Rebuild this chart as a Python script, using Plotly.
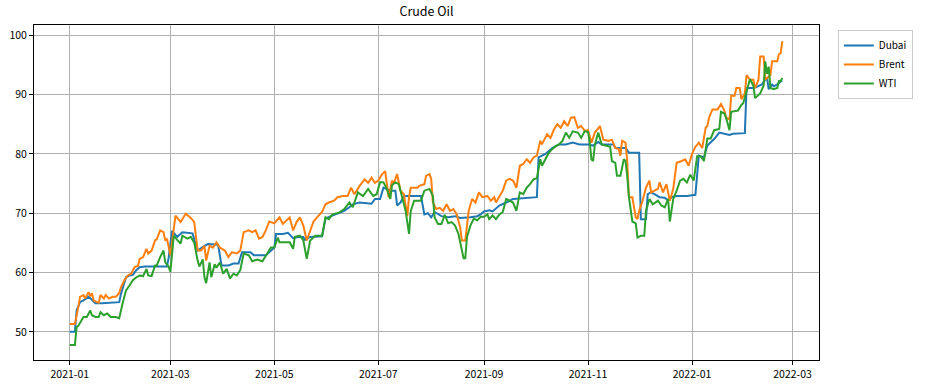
import plotly.graph_objects as go

# ---------------- data ----------------
dubai_dates = ["2021-01-01","2021-01-04","2021-01-05","2021-01-07","2021-01-09","2021-01-12","2021-01-14","2021-01-16","2021-01-20","2021-01-30","2021-01-31",
 "2021-02-03","2021-02-05","2021-02-07","2021-02-09","2021-02-11","2021-02-14","2021-02-27","2021-02-28","2021-03-02","2021-03-05","2021-03-08","2021-03-14",
 "2021-03-16","2021-03-17","2021-03-21","2021-03-23","2021-03-29","2021-03-31","2021-04-04","2021-04-07","2021-04-10","2021-04-12","2021-04-17","2021-04-19",
 "2021-04-26","2021-04-28","2021-05-01","2021-05-02","2021-05-06","2021-05-09","2021-05-12","2021-05-15","2021-05-18","2021-05-19","2021-05-22","2021-05-29",
 "2021-05-31","2021-06-04","2021-06-08","2021-06-11","2021-06-14","2021-06-16","2021-06-20","2021-06-27","2021-06-29","2021-07-02","2021-07-04","2021-07-06",
 "2021-07-08","2021-07-11","2021-07-12","2021-07-14","2021-07-16","2021-07-26","2021-07-28","2021-07-30","2021-08-01","2021-08-03","2021-08-07","2021-08-11",
 "2021-08-15","2021-08-18","2021-08-24","2021-08-28","2021-08-30","2021-09-01","2021-09-04","2021-09-06","2021-09-08","2021-09-10","2021-09-14","2021-09-18",
 "2021-10-02","2021-10-03","2021-10-05","2021-10-07","2021-10-11","2021-10-15","2021-10-19","2021-10-23","2021-10-27","2021-11-01","2021-11-04","2021-11-07",
 "2021-11-09","2021-11-16","2021-11-17","2021-11-23","2021-11-25","2021-12-01","2021-12-02","2021-12-05","2021-12-06","2021-12-08","2021-12-10","2021-12-13",
 "2021-12-16","2021-12-18","2021-12-20","2021-12-23","2021-12-29","2022-01-03","2022-01-05","2022-01-08","2022-01-10","2022-01-12","2022-01-14","2022-01-17",
 "2022-01-20","2022-01-23","2022-01-25","2022-02-01","2022-02-02","2022-02-06","2022-02-08","2022-02-11","2022-02-13","2022-02-14","2022-02-15","2022-02-17",
 "2022-02-18","2022-02-20","2022-02-22","2022-02-23"]
dubai_values = [50.0,50.0,53.6,55.0,55.3,55.9,55.4,54.8,54.8,55.0,56.4,
 59.2,59.5,59.6,60.4,60.9,61.0,61.0,62.5,67.0,66.0,66.8,66.6,
 64.5,63.7,64.5,64.8,64.7,61.2,61.2,61.5,61.5,63.4,63.4,62.9,
 62.9,63.4,64.2,66.5,66.5,66.7,65.8,66.0,66.0,65.5,66.0,66.1,
 69.1,69.6,70.1,70.4,71.0,71.5,71.8,71.6,72.4,72.4,74.3,74.1,
 73.8,73.8,71.3,71.8,72.9,72.9,69.8,70.0,69.3,70.2,69.5,69.3,
 69.5,69.2,69.3,69.5,69.8,70.3,70.5,70.3,70.8,71.3,71.8,72.4,
 72.7,79.4,79.7,80.0,81.0,81.6,81.6,81.9,81.6,81.6,81.4,82.0,
 81.6,81.6,81.0,81.0,80.2,80.2,69.0,69.0,73.2,73.5,73.2,72.7,
 72.6,72.1,72.7,72.9,72.9,73.1,79.7,79.4,81.4,81.9,82.5,83.6,
 83.4,83.2,83.4,83.5,91.1,91.1,91.3,91.7,92.5,92.8,90.9,91.7,
 91.4,91.7,92.2,92.3]

brent_dates = ["2021-01-01","2021-01-04","2021-01-06","2021-01-07","2021-01-09","2021-01-10","2021-01-12","2021-01-13","2021-01-14","2021-01-15","2021-01-17",
 "2021-01-18","2021-01-19","2021-01-21","2021-01-22","2021-01-24","2021-01-26","2021-01-28","2021-01-29","2021-01-30","2021-01-31","2021-02-02","2021-02-04",
 "2021-02-06","2021-02-08","2021-02-10","2021-02-11","2021-02-13","2021-02-15","2021-02-16","2021-02-18","2021-02-20","2021-02-21","2021-02-23","2021-02-25",
 "2021-02-26","2021-02-27","2021-03-01","2021-03-04","2021-03-07","2021-03-10","2021-03-13","2021-03-15","2021-03-17","2021-03-19","2021-03-21","2021-03-22",
 "2021-03-24","2021-03-26","2021-03-28","2021-03-30","2021-04-02","2021-04-04","2021-04-06","2021-04-09","2021-04-11","2021-04-13","2021-04-16","2021-04-18",
 "2021-04-20","2021-04-22","2021-04-24","2021-04-26","2021-04-28","2021-05-01","2021-05-04","2021-05-06","2021-05-10","2021-05-12","2021-05-14","2021-05-16",
 "2021-05-18","2021-05-20","2021-05-22","2021-05-24","2021-05-26","2021-05-29","2021-05-31","2021-06-02","2021-06-05","2021-06-07","2021-06-10","2021-06-13",
 "2021-06-15","2021-06-17","2021-06-20","2021-06-23","2021-06-25","2021-06-27","2021-06-29","2021-07-01","2021-07-03","2021-07-05","2021-07-07","2021-07-09",
 "2021-07-10","2021-07-12","2021-07-14","2021-07-16","2021-07-18","2021-07-19","2021-07-20","2021-07-24","2021-07-25","2021-07-28","2021-07-29","2021-07-31",
 "2021-08-01","2021-08-02","2021-08-04","2021-08-06","2021-08-08","2021-08-10","2021-08-12","2021-08-14","2021-08-16","2021-08-18","2021-08-19","2021-08-21",
 "2021-08-23","2021-08-25","2021-08-27","2021-08-29","2021-08-31","2021-09-03","2021-09-05","2021-09-07","2021-09-08","2021-09-10","2021-09-12","2021-09-14",
 "2021-09-16","2021-09-18","2021-09-20","2021-09-22","2021-09-24","2021-09-26","2021-09-28","2021-09-30","2021-10-02","2021-10-04","2021-10-05","2021-10-06",
 "2021-10-08","2021-10-10","2021-10-12","2021-10-14","2021-10-16","2021-10-18","2021-10-20","2021-10-22","2021-10-24","2021-10-26","2021-10-28","2021-10-30",
 "2021-11-01","2021-11-03","2021-11-05","2021-11-08","2021-11-10","2021-11-13","2021-11-15","2021-11-17","2021-11-19","2021-11-20","2021-11-21","2021-11-23",
 "2021-11-24","2021-11-25","2021-11-27","2021-11-29","2021-11-30","2021-12-01","2021-12-03","2021-12-05","2021-12-07","2021-12-08","2021-12-10","2021-12-12",
 "2021-12-13","2021-12-15","2021-12-17","2021-12-19","2021-12-21","2021-12-23","2021-12-26","2021-12-28","2021-12-30","2022-01-01","2022-01-03","2022-01-05",
 "2022-01-07","2022-01-09","2022-01-10","2022-01-11","2022-01-13","2022-01-16","2022-01-18","2022-01-20","2022-01-21","2022-01-23","2022-01-24","2022-01-26",
 "2022-01-27","2022-01-29","2022-01-30","2022-02-01","2022-02-02","2022-02-04","2022-02-06","2022-02-07","2022-02-09","2022-02-10","2022-02-12","2022-02-13",
 "2022-02-16","2022-02-17","2022-02-20","2022-02-21","2022-02-22","2022-02-23"]
brent_values = [51.3,51.3,54.2,55.9,56.2,55.6,56.7,56.0,56.5,55.3,55.0,
 54.9,56.2,55.6,56.2,55.6,55.9,55.9,56.2,56.6,57.5,58.7,59.5,
 59.8,60.9,61.1,62.3,62.6,64.0,63.2,63.7,65.4,65.6,67.1,66.8,
 65.4,65.7,62.9,69.6,68.5,69.9,69.2,68.5,63.7,63.7,64.5,62.0,
 64.5,64.2,65.1,64.2,63.7,62.6,63.4,63.2,63.7,66.8,67.1,66.8,
 67.1,65.7,66.0,67.1,68.6,68.3,69.3,68.2,69.3,67.1,68.5,69.3,
 67.9,65.4,67.1,68.6,69.3,70.2,71.5,71.8,72.1,72.7,72.9,72.9,
 74.3,73.2,74.6,75.7,75.1,76.0,75.1,75.5,76.5,77.1,72.7,75.5,
 75.0,76.6,73.8,73.2,69.5,72.7,74.3,74.3,74.6,74.9,76.3,76.6,
 75.8,71.8,70.7,70.9,70.4,71.5,70.4,70.7,69.8,67.6,65.4,65.4,
 70.4,72.4,71.8,73.5,72.7,72.9,72.1,72.7,71.8,72.9,73.8,75.5,
 75.8,75.5,74.3,78.0,78.3,79.1,78.5,79.4,79.7,82.2,81.6,82.2,
 83.3,82.7,84.1,85.0,84.4,85.5,84.7,86.1,86.2,84.4,84.7,83.9,
 84.0,81.9,83.6,84.7,82.4,82.2,82.4,81.0,80.8,79.7,82.2,81.9,
 78.8,72.7,72.7,69.3,69.0,70.4,72.1,74.3,75.5,73.5,73.8,74.1,
 75.2,73.5,74.9,72.1,74.1,78.5,78.8,79.1,78.0,80.0,81.2,81.9,
 81.0,84.4,84.7,86.1,87.5,87.5,88.4,87.3,86.1,85.8,89.8,89.8,
 91.1,91.1,89.2,90.2,93.3,92.5,92.5,91.1,92.5,96.4,96.4,92.5,
 93.3,95.6,95.6,96.8,97.0,99.0]

wti_dates = ["2021-01-01","2021-01-04","2021-01-05","2021-01-06","2021-01-09","2021-01-11","2021-01-13","2021-01-14","2021-01-16","2021-01-18","2021-01-19",
 "2021-01-21","2021-01-23","2021-01-25","2021-01-28","2021-01-30","2021-02-01","2021-02-03","2021-02-05","2021-02-07","2021-02-09","2021-02-11","2021-02-13",
 "2021-02-15","2021-02-16","2021-02-18","2021-02-20","2021-02-21","2021-02-23","2021-02-25","2021-02-26","2021-02-28","2021-03-01","2021-03-03","2021-03-05",
 "2021-03-07","2021-03-08","2021-03-11","2021-03-13","2021-03-15","2021-03-17","2021-03-18","2021-03-20","2021-03-21","2021-03-22","2021-03-24","2021-03-25",
 "2021-03-27","2021-03-28","2021-03-30","2021-04-01","2021-04-03","2021-04-05","2021-04-07","2021-04-09","2021-04-11","2021-04-13","2021-04-16","2021-04-18",
 "2021-04-21","2021-04-24","2021-04-27","2021-04-29","2021-05-01","2021-05-03","2021-05-04","2021-05-10","2021-05-12","2021-05-13","2021-05-16","2021-05-18",
 "2021-05-20","2021-05-22","2021-05-25","2021-05-29","2021-05-31","2021-06-02","2021-06-04","2021-06-08","2021-06-11","2021-06-14","2021-06-16","2021-06-19",
 "2021-06-22","2021-06-25","2021-06-28","2021-06-30","2021-07-02","2021-07-04","2021-07-06","2021-07-08","2021-07-09","2021-07-11","2021-07-13","2021-07-15",
 "2021-07-17","2021-07-19","2021-07-20","2021-07-22","2021-07-26","2021-07-28","2021-07-31","2021-08-02","2021-08-03","2021-08-05","2021-08-07","2021-08-09",
 "2021-08-11","2021-08-13","2021-08-15","2021-08-17","2021-08-19","2021-08-20","2021-08-21","2021-08-22","2021-08-24","2021-08-26","2021-08-28","2021-08-30",
 "2021-09-01","2021-09-03","2021-09-04","2021-09-06","2021-09-08","2021-09-10","2021-09-12","2021-09-14","2021-09-16","2021-09-18","2021-09-20","2021-09-22",
 "2021-09-24","2021-09-26","2021-09-28","2021-09-30","2021-10-02","2021-10-04","2021-10-05","2021-10-07","2021-10-09","2021-10-11","2021-10-13","2021-10-15",
 "2021-10-17","2021-10-19","2021-10-21","2021-10-23","2021-10-26","2021-10-28","2021-10-30","2021-11-01","2021-11-02","2021-11-03","2021-11-04","2021-11-05",
 "2021-11-07","2021-11-09","2021-11-11","2021-11-14","2021-11-15","2021-11-17","2021-11-18","2021-11-20","2021-11-22","2021-11-23","2021-11-24","2021-11-25",
 "2021-11-27","2021-11-29","2021-11-30","2021-12-02","2021-12-04","2021-12-05","2021-12-07","2021-12-09","2021-12-12","2021-12-14","2021-12-16","2021-12-18",
 "2021-12-19","2021-12-21","2021-12-23","2021-12-25","2021-12-27","2021-12-29","2021-12-31","2022-01-02","2022-01-04","2022-01-06","2022-01-08","2022-01-10",
 "2022-01-12","2022-01-14","2022-01-17","2022-01-18","2022-01-20","2022-01-21","2022-01-23","2022-01-24","2022-01-28","2022-01-30","2022-01-31","2022-02-02",
 "2022-02-04","2022-02-06","2022-02-07","2022-02-10","2022-02-12","2022-02-13","2022-02-14","2022-02-15","2022-02-16","2022-02-18","2022-02-20","2022-02-21",
 "2022-02-22","2022-02-23"]
wti_values = [47.8,47.8,50.8,51.0,52.5,52.5,53.6,52.8,52.5,52.5,53.3,
 52.8,53.1,52.5,52.5,52.3,54.8,57.0,57.8,58.7,59.2,59.5,59.4,
 60.6,59.5,59.4,61.2,61.2,62.6,63.7,61.7,61.0,60.1,66.2,65.5,
 64.9,66.2,65.7,66.0,65.0,62.0,61.0,62.2,59.2,58.2,61.7,59.2,
 61.4,60.8,61.7,59.8,60.6,59.0,59.8,59.5,60.4,63.2,62.9,61.9,
 62.2,61.9,63.4,64.2,64.2,65.9,65.1,65.1,64.0,66.0,66.2,65.4,
 62.3,65.4,66.2,66.2,69.3,69.0,69.8,70.1,70.7,71.8,71.0,73.5,
 72.9,74.1,72.9,73.2,75.2,75.2,74.1,72.4,74.7,75.2,74.9,72.7,
 70.4,66.5,70.4,72.1,72.1,73.8,74.1,72.9,69.3,68.2,68.2,69.7,
 68.3,68.5,67.9,66.5,63.7,62.4,62.4,66.0,67.9,69.1,68.8,69.4,
 69.4,69.8,69.0,69.6,69.0,69.8,70.2,72.4,72.1,71.8,70.4,73.5,
 73.2,74.3,74.9,75.7,75.9,79.1,78.0,79.1,80.2,80.8,81.3,81.6,
 82.2,83.6,82.7,83.8,83.6,82.7,83.8,83.7,82.0,79.1,78.8,81.5,
 83.6,81.6,81.4,81.2,78.8,78.5,76.3,76.3,79.1,78.8,76.3,72.7,
 68.6,68.3,65.9,66.2,66.2,70.4,72.4,71.5,72.1,71.3,71.0,72.4,
 68.6,72.4,73.8,75.5,75.8,75.2,76.5,75.5,79.6,79.6,78.8,82.6,
 82.6,84.0,84.2,87.1,86.8,86.1,84.0,87.1,87.3,88.3,88.5,90.7,
 92.6,91.5,89.4,90.2,91.5,95.6,93.5,94.7,91.1,90.9,91.1,92.3,
 92.3,92.8]

series_names = ["Dubai", "Brent", "WTI"]
series_colors = ["#1f77b4", "#ff7f0e", "#2ca02c"]
y_ticks = [50, 60, 70, 80, 90, 100]

# ---------------- figure ----------------
FONT = "Noto Sans CJK KR"
fig = go.Figure()
for name, xs, ys, col in zip(series_names,
                             [dubai_dates, brent_dates, wti_dates],
                             [dubai_values, brent_values, wti_values],
                             series_colors):
    fig.add_trace(go.Scatter(x=xs, y=ys, mode="lines", name=name,
                             line=dict(color=col, width=2)))

axis_common = dict(showline=True, linecolor="black", linewidth=1, mirror=True,
                   ticks="outside", ticklen=4, tickcolor="black",
                   showgrid=True, gridcolor="#b0b0b0", gridwidth=1,
                   zeroline=False, automargin=False,
                   tickfont=dict(family=FONT, size=10.5, color="black"))

fig.update_layout(
    width=940, height=386,
    margin=dict(l=34, r=121, t=25, b=26, autoexpand=False),
    paper_bgcolor="white", plot_bgcolor="white",
    title=dict(text="Crude Oil", x=(34 + 819) / 2 / 940, xanchor="center",
               y=1 - 12 / 386, yanchor="middle", automargin=False,
               font=dict(family=FONT, size=12.5, color="black")),
    font=dict(family=FONT, size=10, color="black"),
    legend=dict(x=1.024, y=0.985, xanchor="left", yanchor="top",
                bordercolor="#cccccc", borderwidth=1, bgcolor="white",
                font=dict(family=FONT, size=10, color="black"),
                tracegroupgap=0, itemwidth=30),
    showlegend=True,
)
fig.update_xaxes(**axis_common, type="date",
                 range=["2020-12-11", "2022-03-16 12:00"],
                 dtick="M2", tick0="2021-01-01", tickformat="%Y-%m")
fig.update_yaxes(**axis_common, range=[45.25, 101.73],
                 tickmode="array", tickvals=y_ticks,
                 ticktext=[str(v) for v in y_ticks])

fig.write_html("out.html",
               config={"displayModeBar": False},
               post_script="document.body.style.margin='0px';"
                           "document.body.style.overflow='hidden';")
